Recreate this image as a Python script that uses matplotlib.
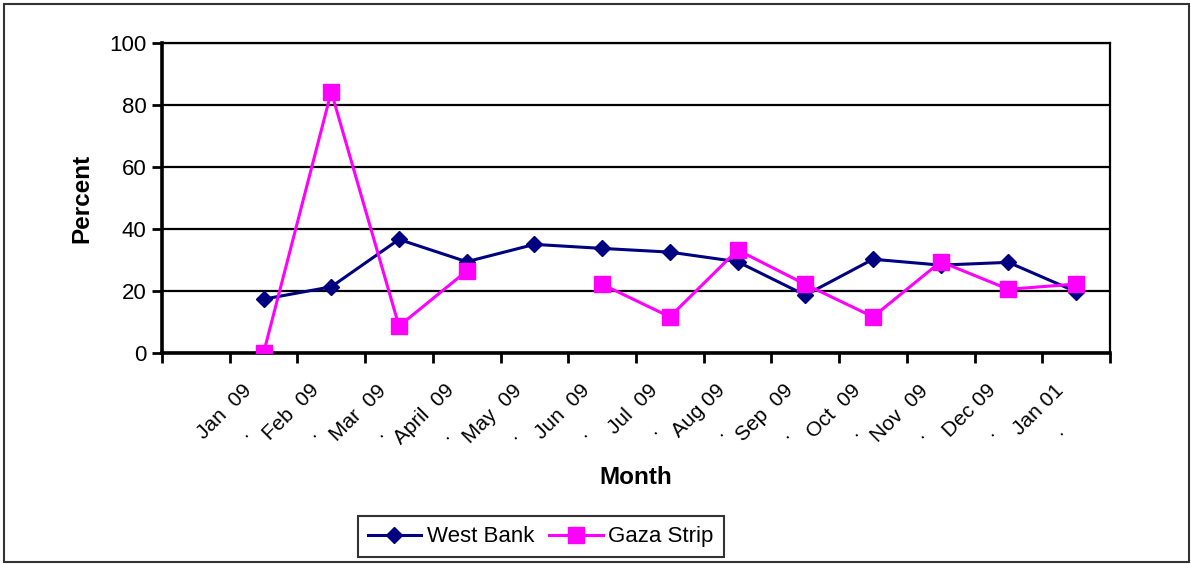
import numpy as np
import matplotlib
matplotlib.use('Agg')
import matplotlib.pyplot as plt
from matplotlib.patches import Rectangle
from matplotlib.transforms import ScaledTranslation

months = ['Jan  09', 'Feb  09', 'Mar  09', 'April  09', 'May  09', 'Jun  09', 'Jul  09',
          'Aug 09', 'Sep  09', 'Oct  09', 'Nov  09', 'Dec 09', 'Jan 01']
west_bank = [17.4, 21.4, 36.7, 29.5, 35.1, 33.8, 32.6, 29.5, 18.7, 30.3, 28.4, 29.3, 19.8]
gaza_strip = [0.0, 84.4, 8.7, 26.5, np.nan, 22.2, 11.7, 33.3, 22.2, 11.7, 29.5, 20.6, 22.3]


def main():
    plt.rcParams['font.family'] = ['Liberation Sans', 'DejaVu Sans']

    fig = plt.figure(figsize=(11.91, 5.64), dpi=100)
    ax = fig.add_axes([0.136, 0.374, 0.796, 0.549])

    x = np.arange(1, len(months) + 1)  # first category is empty
    ax.plot(x, west_bank, color='#000080', marker='D', markersize=8, linewidth=2.2,
            label='West Bank', zorder=3)
    ax.plot(x, gaza_strip, color='#FF00FF', marker='s', markersize=11, linewidth=2.2,
            label='Gaza Strip', zorder=4)

    ax.set_xlim(-0.5, len(months) + 0.5)
    ax.set_ylim(0, 100)
    ax.set_yticks(range(0, 101, 20))
    ax.yaxis.grid(True, color='black', linewidth=1.6)
    ax.set_axisbelow(True)

    # tick marks on category borders, labels at centres
    ax.set_xticks(np.arange(-0.5, len(months) + 1, 1.0), minor=True)
    ax.set_xticks(x)
    ax.tick_params(axis='x', which='major', length=0, pad=20)
    ax.tick_params(axis='x', which='minor', length=7, width=2, direction='out')
    ax.tick_params(axis='y', length=7, width=2, direction='out', labelsize=16, pad=4)
    ax.set_xticklabels([m + '\n.' for m in months], rotation=45, ha='right', va='top',
                       rotation_mode='anchor', multialignment='center', fontsize=15,
                       linespacing=1.6)
    shift = ScaledTranslation(-22 / 100, 0, fig.dpi_scale_trans)
    for lbl in ax.get_xticklabels():
        lbl.set_transform(lbl.get_transform() + shift)

    for side in ['top', 'right']:
        ax.spines[side].set_linewidth(1.6)
    for side in ['left', 'bottom']:
        ax.spines[side].set_linewidth(2.6)

    fig.text(0.534, 0.154, 'Month', fontsize=17.5, fontweight='bold', ha='center', va='center')
    fig.text(0.069, 0.649, 'Percent', fontsize=17.5, fontweight='bold', ha='center', va='center',
             rotation=90)

    leg = fig.legend(loc='center', bbox_to_anchor=(0.454, 0.048), ncol=2, fontsize=16,
                     frameon=True, fancybox=False, edgecolor='black', handlelength=2.4,
                     columnspacing=0.7, handletextpad=0.25, borderpad=0.45)
    leg.get_frame().set_linewidth(1.5)

    fig.patches.append(Rectangle((4 / 1191, 2 / 564), 1185 / 1191, 558 / 564,
                                 transform=fig.transFigure, fill=False,
                                 edgecolor='#333333', linewidth=1.5))

    fig.savefig('out.png', dpi=100)


if __name__ == '__main__':
    main()
